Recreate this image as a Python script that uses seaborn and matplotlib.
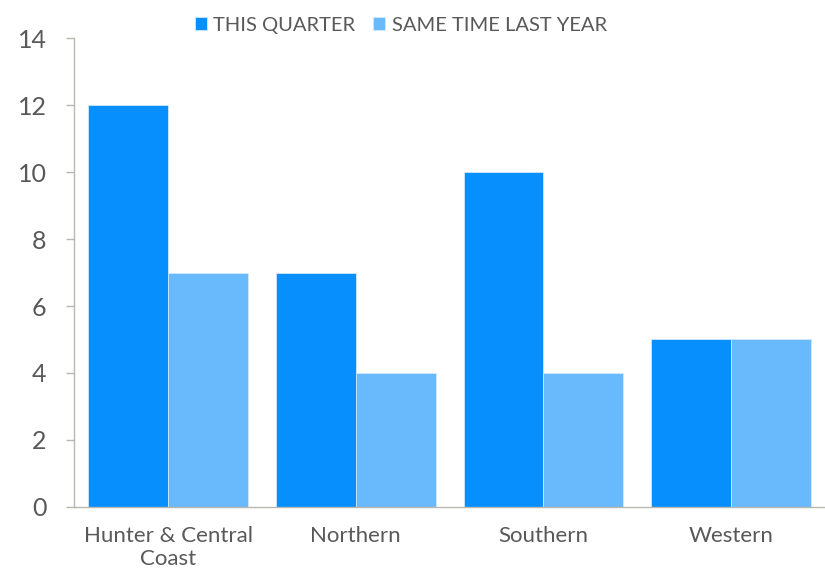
import matplotlib
matplotlib.use("Agg")
import matplotlib.pyplot as plt
import pandas as pd
import seaborn as sns

regions = ["Hunter & Central\nCoast", "Northern", "Southern", "Western"]
this_quarter = [12, 7, 10, 5]
last_year = [7, 4, 4, 5]
series = ["THIS QUARTER", "SAME TIME LAST YEAR"]
colors = ["#078ffd", "#69bafc"]

df = pd.DataFrame({
    "region": regions * 2,
    "value": this_quarter + last_year,
    "series": [series[0]] * 4 + [series[1]] * 4,
})

sns.set_style("white")
plt.rcParams["font.family"] = ["Lato", "DejaVu Sans"]

fig, ax = plt.subplots(figsize=(8.25, 5.72), dpi=100)
sns.barplot(data=df, x="region", y="value", hue="series", order=regions,
            hue_order=series, palette=colors, width=0.85, gap=0,
            saturation=1, edgecolor="#cfe8fe", linewidth=0.6, ax=ax)

ax.set_xlim(-0.5, 3.5)
ax.set_ylim(0, 14)
ax.set_yticks(range(0, 15, 2))
ax.set_xlabel("")
ax.set_ylabel("")
ax.tick_params(axis="y", labelsize=18, labelcolor="#595959", color="#b8b8b0",
               length=6, width=1, direction="out", left=True, pad=14)
ax.tick_params(axis="x", labelsize=16, labelcolor="#595959", length=0, pad=14)
sns.despine(ax=ax, top=True, right=True)
for side in ["left", "bottom"]:
    ax.spines[side].set_color("#b8b8b0")
    ax.spines[side].set_linewidth(1)

# legend sits a little left of the axes centre in the original
leg = ax.legend(loc="upper center", bbox_to_anchor=(0.435, 1.085), ncol=2,
                frameon=False, fontsize=14.5, handlelength=0.6, handleheight=0.6,
                handletextpad=0.3, columnspacing=0.9)
for t in leg.get_texts():
    t.set_color("#595959")

fig.subplots_adjust(left=0.09, right=1.0, top=0.933, bottom=0.114)
plt.savefig("out.png", dpi=100)
plt.close()
